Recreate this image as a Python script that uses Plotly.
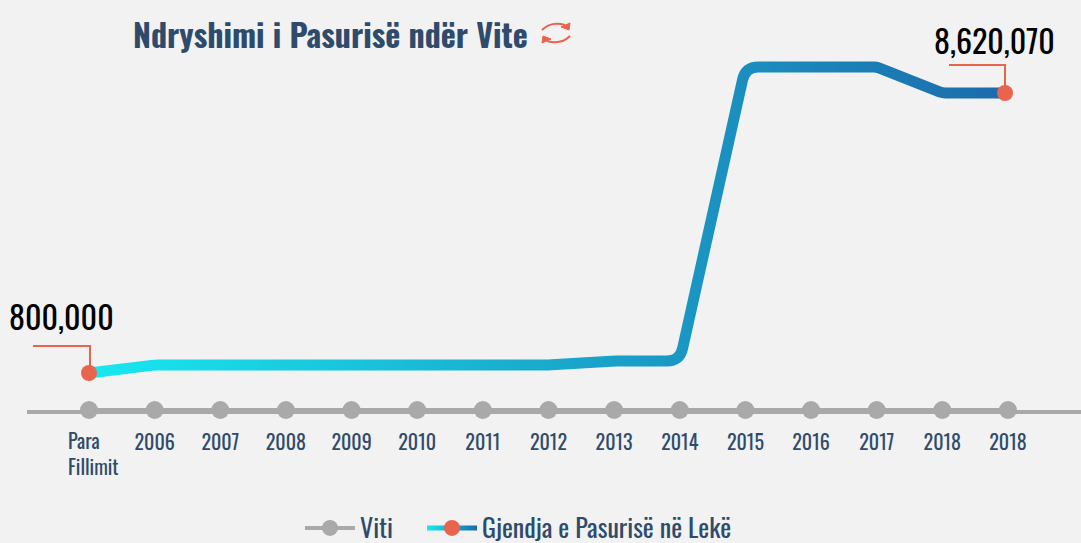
import plotly.graph_objects as go

positions = list(range(15))
wealth_positions = positions[:-1] + [13.955]
tick_labels = ["", "2006", "2007", "2008", "2009", "2010", "2011", "2012", "2013", "2014", "2015", "2016", "2017", "2018", "2018"]
first_label = "Para<br>Fillimit"
wealth = [800000, 1023000, 1023000, 1023000, 1023000, 1023000, 1023000, 1023000, 1135000, 1135000,
          9346000, 9346000, 9346000, 8620070, 8620070]
baseline = -233000
year_values = [baseline] * 15
title_text = "Ndryshimi i Pasurisë ndër Vite"
series_year = "Viti"
series_wealth = "Gjendja e Pasurisë në Lekë"

FONT = "Liberation Sans Narrow, Oswald, Roboto, sans-serif"
NAVY = "#2f4b6c"
RED = "#e8644c"
GREY = "#a9a9a9"
BG = "#f2f2f2"
W, H = 1081, 543
L, R, T, B = 27, 0, 20, 133
MID = "rgb(28,145,195)"
MID2 = "rgb(28,146,196)"

fig = go.Figure()
fig.add_trace(go.Scatter(x=positions, y=year_values, name=series_year, mode="lines+markers",
                         line=dict(color=GREY, width=4), marker=dict(color=GREY, size=18),
                         cliponaxis=False))
sizes = [16] + [0] * 13 + [16]
fig.add_trace(go.Scatter(x=wealth_positions, y=wealth, mode="lines+markers", showlegend=False,
                         line=dict(color=MID, width=11),
                         marker=dict(color=RED, size=sizes, opacity=1, line=dict(width=0, color=RED)), cliponaxis=False))
fig.add_trace(go.Scatter(x=[None], y=[None], name=series_wealth, mode="lines+markers",
                         line=dict(color=MID2, width=5), marker=dict(color=RED, size=16, opacity=1, line=dict(width=0, color=RED))))

for xv, yv, txt, dx, dy in [(wealth_positions[0], wealth[0], "800,000", -28, 58),
                            (wealth_positions[-1], wealth[-1], "8,620,070", -11, 54)]:
    fig.add_annotation(x=xv, y=yv, text=txt, showarrow=False, xref="x", yref="y",
                       xshift=dx, yshift=dy, font=dict(family=FONT, size=32, color="#000"))
fig.add_shape(type="path", xref="x", yref="y", xsizemode="pixel", ysizemode="pixel",
              xanchor=wealth_positions[0], yanchor=wealth[0], path="M -56 27 L 1 27 L 1 0",
              line=dict(color=RED, width=2))
fig.add_shape(type="path", xref="x", yref="y", xsizemode="pixel", ysizemode="pixel",
              xanchor=wealth_positions[-1], yanchor=wealth[-1], path="M -56 28 L 0 28 L 0 0",
              line=dict(color=RED, width=2))

fig.add_annotation(x=positions[0], y=baseline, text=first_label, showarrow=False, align="left", xanchor="left",
                   yanchor="top", xshift=-23, yshift=-13, font=dict(family=FONT, size=20, color=NAVY))
fig.add_annotation(xref="paper", yref="paper", x=(131 - L) / (W - L - R), y=1 + (T - 33) / (H - T - B),
                   xanchor="left", yanchor="middle", text=f"<b>{title_text}</b>", showarrow=False,
                   font=dict(family=FONT, size=32, color=NAVY))
# refresh icon
icon_x, icon_y = (556 - L) / (W - L - R), 1 + (T - 33) / (H - T - B)
fig.add_shape(type="path", xref="paper", yref="paper", xsizemode="pixel", ysizemode="pixel",
              xanchor=icon_x, yanchor=icon_y, path="M -14 3 Q -5 12 9 8 M 14 -3 Q 5 -12 -9 -8",
              line=dict(color=RED, width=2))
fig.add_shape(type="path", xref="paper", yref="paper", xsizemode="pixel", ysizemode="pixel",
              xanchor=icon_x, yanchor=icon_y, path="M 14 10 L 13 3 L 5 6 Z M -14 -10 L -13 -3 L -5 -6 Z",
              fillcolor=RED, line=dict(color=RED, width=1))

fig.update_layout(
    width=W, height=H, autosize=False,
    paper_bgcolor=BG, plot_bgcolor=BG, margin=dict(l=L, r=R, t=T, b=B, autoexpand=False),
    font=dict(family=FONT, color=NAVY, size=20),
    xaxis=dict(range=[(L - 89) / 65.64, (W - 89) / 65.64], tickvals=positions, ticktext=tick_labels,
               showgrid=False, zeroline=False, showline=True, linecolor=GREY, linewidth=4,
               ticks="outside", ticklen=12, tickcolor="rgba(0,0,0,0)", tickfont=dict(family=FONT, size=20, color=NAVY)),
    yaxis=dict(range=[baseline, 8620070 + 73 * 27929], visible=False),
    legend=dict(orientation="h", x=(525 - L) / (W - L - R), xanchor="center", y=-0.3026, yanchor="middle", itemwidth=50,
                font=dict(family=FONT, size=26, color=NAVY), bgcolor="rgba(0,0,0,0)"),
)

post = """
(function(){
 document.documentElement.style.margin='0';
 document.body.style.margin='0';
 document.body.style.background='#f2f2f2';
 var svg=document.querySelector('.main-svg');
 var ns='http://www.w3.org/2000/svg';
 function grad(id,attrs){
  var g=document.createElementNS(ns,'linearGradient');g.setAttribute('id',id);
  for(var k in attrs){g.setAttribute(k,attrs[k]);}
  [['0','#18e8f0'],['1','#1b6bab']].forEach(function(s){var st=document.createElementNS(ns,'stop');st.setAttribute('offset',s[0]);st.setAttribute('stop-color',s[1]);g.appendChild(st);});
  svg.querySelector('defs').appendChild(g);
 }
 grad('lineGrad',{x1:'0',x2:'1',y1:'0',y2:'0'});
 grad('legGrad',{gradientUnits:'userSpaceOnUse',x1:'5',x2:'55',y1:'0',y2:'0'});
 function round(d){
  var n=d.replace(/[ML]/g,' ').trim().split(/\\s+/).map(function(t){return t.split(',').map(Number);});
  var out='M'+n[0].join(',');
  for(var i=1;i<n.length-1;i++){
   var a=n[i-1],b=n[i],c=n[i+1];
   var la=Math.hypot(a[0]-b[0],a[1]-b[1]),lc=Math.hypot(c[0]-b[0],c[1]-b[1]);
   var cos=((a[0]-b[0])*(c[0]-b[0])+(a[1]-b[1])*(c[1]-b[1]))/(la*lc);
   var r=cos>-0.8?13:3;
   var ra=Math.min(r,la/2),rc=Math.min(r,lc/2);
   var p=[b[0]+(a[0]-b[0])*ra/la,b[1]+(a[1]-b[1])*ra/la];
   var q=[b[0]+(c[0]-b[0])*rc/lc,b[1]+(c[1]-b[1])*rc/lc];
   out+='L'+p.join(',')+'Q'+b.join(',')+' '+q.join(',');
  }
  return out+'L'+n[n.length-1].join(',');
 }
 document.querySelectorAll('path.js-line').forEach(function(p){
  var s=p.style.stroke.replace(/ /g,'');
  if(s==='rgb(28,145,195)'){p.setAttribute('d',round(p.getAttribute('d')));p.style.stroke='url(#lineGrad)';p.style.strokeLinejoin='round';}
  if(s==='rgb(28,146,196)'){p.style.stroke='url(#legGrad)';}
 });
 var box=svg.ownerDocument.querySelector('.legend .scrollbox');
 if(box){box.removeAttribute('clip-path');box.style.clipPath='none';}
 var items=document.querySelectorAll('.legend .traces');
 [305,427].forEach(function(target,i){
  var it=items[i];
  var line=it.querySelector('.legendlines path');
  var cur=line.getBoundingClientRect().left;
  var m=/translate\\(([-\\d.]+),\\s*([-\\d.]+)\\)/.exec(it.getAttribute('transform'));
  it.setAttribute('transform','translate('+(parseFloat(m[1])+target-cur)+','+m[2]+')');
 });
})();
"""
fig.write_html("out.html", post_script=post, config=dict(displayModeBar=False))
